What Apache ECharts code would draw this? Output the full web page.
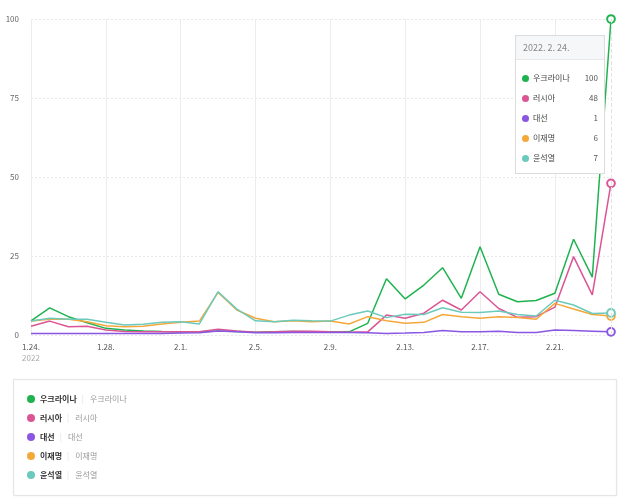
<!DOCTYPE html>
<html>
<head>
<meta charset="utf-8">
<script src="https://cdn.jsdelivr.net/npm/echarts@6/dist/echarts.min.js"></script>
<style>
html,body{margin:0;padding:0;background:#fff;}
#c{width:628px;height:503px;}
</style>
</head>
<body>
<div id="c"></div>
<script>
const dates = ['1.24.','1.25.','1.26.','1.27.','1.28.','1.29.','1.30.','1.31.',
  '2.1.','2.2.','2.3.','2.4.','2.5.','2.6.','2.7.','2.8.','2.9.','2.10.','2.11.','2.12.',
  '2.13.','2.14.','2.15.','2.16.','2.17.','2.18.','2.19.','2.20.','2.21.','2.22.','2.23.','2.24.'];
const yearLabel = '2022';
const tooltipTitle = '2022. 2. 24.';
const seriesNames = ['우크라이나','러시아','대선','이재명','윤석열'];
const ukraine = [4.5,8.6,5.8,3.9,2.1,1.6,1.3,1.1,1.0,1.0,1.3,1.1,0.9,1.0,1.1,1.0,1.0,1.0,3.7,17.8,11.4,15.8,21.3,11.6,27.9,12.9,10.5,10.9,13.2,30.3,18.3,100];
const russia = [2.8,4.4,2.6,2.8,1.6,1.1,1.0,1.0,1.0,1.0,1.8,1.3,0.9,1.0,1.2,1.2,1.0,0.9,1.0,6.3,5.3,6.9,11.0,7.9,13.7,8.4,5.6,5.8,8.8,24.8,12.7,48];
const election = [0.5,0.5,0.5,0.5,0.5,0.5,0.5,0.5,0.6,0.7,1.3,1.0,0.7,0.7,0.8,0.8,0.8,0.8,0.7,0.5,0.6,0.8,1.4,1.0,1.0,1.2,0.8,0.8,1.6,1.4,1.2,1];
const leeJM = [4.4,5.0,5.0,4.2,2.9,2.6,2.8,3.5,4.0,4.4,13.5,7.9,5.3,4.2,4.5,4.2,4.4,3.5,5.8,4.5,3.7,4.0,6.5,5.8,5.3,5.8,5.5,5.0,10.0,8.2,6.5,6];
const yoonSY = [4.4,5.3,5.0,5.0,4.0,3.2,3.4,4.0,4.2,3.5,13.7,8.2,4.5,4.2,4.7,4.5,4.4,6.3,7.6,5.5,6.6,6.5,8.6,7.2,7.1,7.6,6.5,6.0,11.0,9.5,6.8,7];
const yTicks = [0,25,50,75,100];
const colors = ['#1fb34f','#db5595','#8a56e2','#f5a83a','#6ccabd'];

const FONT = '"Noto Sans CJK KR", "Noto Sans", sans-serif';
const allData = [ukraine, russia, election, leeJM, yoonSY];
const last = dates.length - 1;

const chart = echarts.init(document.getElementById('c'));
const series = seriesNames.map((name, i) => ({
  name: name,
  type: 'line',
  data: allData[i],
  symbol: 'circle',
  showSymbol: true,
  showAllSymbol: true,
  symbolSize: (v, p) => p.dataIndex === last ? 7 : 0,
  itemStyle: {color: '#fff', borderColor: colors[i], borderWidth: 2},
  lineStyle: {color: colors[i], width: 1.5},
  emphasis: {disabled: true},
  z: 2 + i
}));

chart.setOption({
  animation: false,
  textStyle: {fontFamily: FONT},
  color: colors,
  grid: {left: 31, right: 17, top: 19, bottom: 168},
  xAxis: {
    type: 'category',
    data: dates,
    boundaryGap: false,
    axisLine: {show: false},
    axisTick: {show: false},
    axisLabel: {
      interval: 3,
      fontSize: 8,
      color: '#555',
      margin: 6,
      fontFamily: FONT,
      lineHeight: 11,
      formatter: (v, idx) => idx === 0 ? v + '\n{y|' + yearLabel + '}' : v,
      rich: {y: {color: '#aaa', fontSize: 8, lineHeight: 11, fontFamily: FONT}}
    },
    splitLine: {show: true, interval: 3, lineStyle: {color: '#ececec', width: 1}}
  },
  yAxis: {
    type: 'value',
    min: yTicks[0],
    max: yTicks[yTicks.length - 1],
    interval: 25,
    axisLine: {show: false},
    axisTick: {show: false},
    axisLabel: {fontSize: 8, color: '#666', margin: 12, fontFamily: FONT},
    splitLine: {lineStyle: {color: '#e8e8e8', type: [2, 2]}}
  },
  legend: {
    orient: 'vertical',
    left: 27,
    top: 393,
    padding: 0,
    itemWidth: 8,
    itemHeight: 8,
    itemGap: 7,
    icon: 'circle',
    selectedMode: false,
    data: seriesNames.map((n, i) => ({name: n, itemStyle: {color: colors[i], borderWidth: 0}})),
    formatter: n => '{a|' + n + '}{s||}{b|' + n + '}',
    textStyle: {
      fontFamily: FONT,
      lineHeight: 12,
      rich: {
        a: {fontSize: 8, color: '#333', fontWeight: 'bold', fontFamily: FONT},
        s: {fontSize: 8, color: '#ddd', padding: [0, 6, 0, 5], fontFamily: FONT},
        b: {fontSize: 8, color: '#999', fontFamily: FONT}
      }
    }
  },
  graphic: [{
    type: 'rect',
    shape: {x: 13.5, y: 379.5, width: 603, height: 116},
    style: {fill: '#fff', stroke: '#e6e6e6', lineWidth: 1, shadowBlur: 2, shadowColor: 'rgba(0,0,0,0.06)'},
    z: -10,
    silent: true
  }],
  tooltip: {
    trigger: 'axis',
    triggerOn: 'none',
    alwaysShowContent: true,
    position: [515, 35],
    padding: 0,
    borderWidth: 1,
    borderColor: '#dcdcdc',
    backgroundColor: '#fff',
    extraCssText: 'box-shadow:none;border-radius:0;width:88px;',
    axisPointer: {type: 'line', lineStyle: {color: '#e2e2e2', width: 1}},
    formatter: params => {
      let h = '<div style="font-family:' + FONT.replace(/"/g, "'") + ';">';
      h += '<div style="height:23px;line-height:23px;background:#f6f7f9;border-bottom:1px solid #e8e8e8;padding-left:7px;font-size:9px;color:#888;">' + tooltipTitle + '</div>';
      h += '<div style="padding:8px 6px 5px 6px;">';
      params.forEach(p => {
        h += '<div style="height:20px;line-height:20px;display:flex;align-items:center;font-size:8px;color:#444;">' +
          '<span style="display:inline-block;width:7px;height:7px;border-radius:50%;background:' + colors[p.seriesIndex] + ';margin-right:4px;"></span>' +
          '<span style="flex:1;">' + p.seriesName + '</span>' +
          '<span style="color:#555;">' + p.value + '</span></div>';
      });
      h += '</div></div>';
      return h;
    }
  },
  series: series
});
chart.dispatchAction({type: 'showTip', seriesIndex: 0, dataIndex: last});
</script>
</body>
</html>
